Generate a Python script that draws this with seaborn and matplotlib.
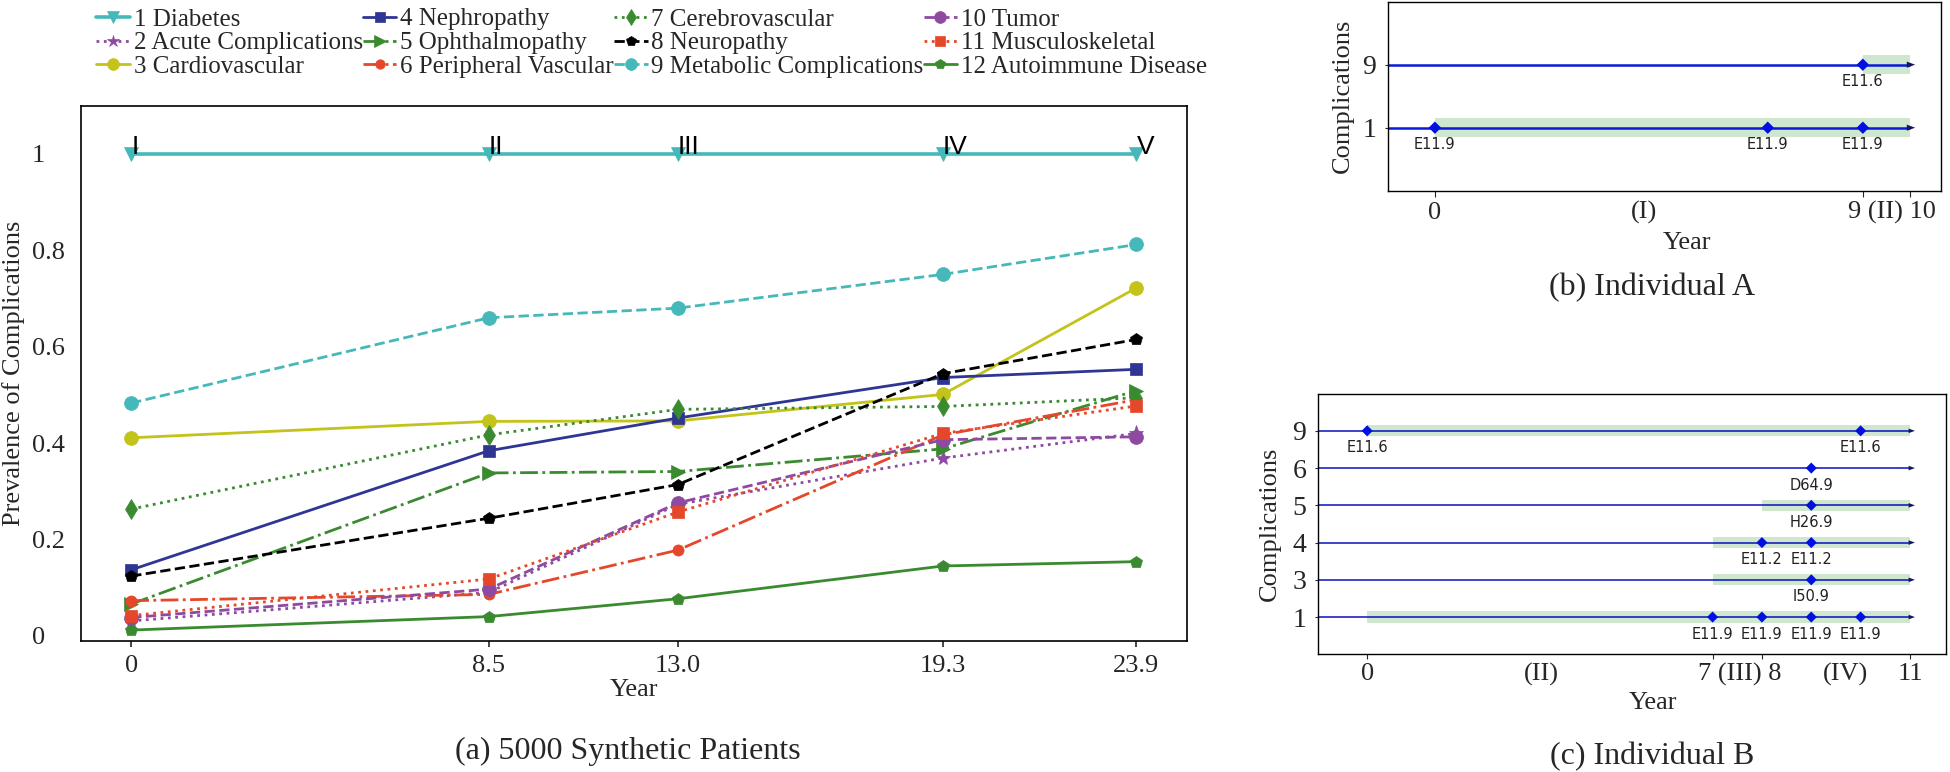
import matplotlib
matplotlib.use("Agg")
import matplotlib.pyplot as plt
import seaborn as sns
import pandas as pd

# ---- (a) prevalence of complications, 5000 synthetic patients ----
years = [0, 8.5, 13.0, 19.3, 23.9]
year_labels = ["0", "8.5", "13.0", "19.3", "23.9"]
stage_labels = ["I", "II", "III", "IV", "V"]

series_names = [
    "1 Diabetes", "2 Acute Complications", "3 Cardiovascular",
    "4 Nephropathy", "5 Ophthalmopathy", "6 Peripheral Vascular",
    "7 Cerebrovascular", "8 Neuropathy", "9 Metabolic Complications",
    "10 Tumor", "11 Musculoskeletal", "12 Autoimmune Disease",
]
diabetes = [1.0, 1.0, 1.0, 1.0, 1.0]
acute = [0.031, 0.090, 0.273, 0.369, 0.420]
cardio = [0.411, 0.445, 0.446, 0.501, 0.722]
nephro = [0.137, 0.384, 0.452, 0.536, 0.553]
ophthal = [0.066, 0.338, 0.341, 0.388, 0.509]
peripheral = [0.073, 0.086, 0.178, 0.417, 0.490]
cerebro = [0.263, 0.417, 0.470, 0.476, 0.494]
neuro = [0.124, 0.244, 0.314, 0.544, 0.615]
metabolic = [0.483, 0.660, 0.680, 0.750, 0.812]
tumor = [0.038, 0.097, 0.276, 0.407, 0.413]
musculo = [0.042, 0.118, 0.257, 0.420, 0.477]
autoimmune = [0.012, 0.040, 0.077, 0.145, 0.154]
all_series = [diabetes, acute, cardio, nephro, ophthal, peripheral,
              cerebro, neuro, metabolic, tumor, musculo, autoimmune]

# ---- (b) individual A ----
b_rows = ["1", "9"]
b_band_rows = ["1", "9"]
b_band_start = [0, 9]
b_band_end = [10, 10]
b_event_rows = ["1", "1", "1", "9"]
b_event_years = [0, 7, 9, 9]
b_event_codes = ["E11.9", "E11.9", "E11.9", "E11.6"]
b_ticks = [0, 9, 10]
b_tick_labels = ["0", "", ""]
b_text_pos = [4.4, 9.62]
b_text_labels = ["(I)", "9 (II) 10"]

# ---- (c) individual B ----
c_rows = ["1", "3", "4", "5", "6", "9"]
c_band_rows = ["1", "3", "4", "5", "9"]
c_band_start = [0, 7, 7, 8, 0]
c_band_end = [11, 11, 11, 11, 11]
c_event_rows = ["9", "9", "6", "5", "4", "4", "3", "1", "1", "1", "1"]
c_event_years = [0, 10, 9, 9, 8, 9, 9, 7, 8, 9, 10]
c_event_codes = ["E11.6", "E11.6", "D64.9", "H26.9", "E11.2", "E11.2",
                 "I50.9", "E11.9", "E11.9", "E11.9", "E11.9"]
c_ticks = [0, 7, 8, 11]
c_tick_labels = ["0", "", "", "11"]
c_text_pos = [3.53, 7.55, 9.69]
c_text_labels = ["(II)", "7 (III) 8", "(IV)"]

# styles
teal, purple, olive, navy = "#45b8ba", "#8e4aa0", "#c3c31a", "#2e3592"
green, red = "#3a8a30", "#e5472a"
colors = [teal, purple, olive, navy, green, red, green, "black", teal, purple, red, green]
linestyles = ["-", ":", "-", "-", "-.", "-.", ":", "--", "--", "--", ":", "-"]
markers = ["v", "*", "o", "s", ">", "o", "d", "p", "o", "o", "s", "p"]
msizes = [10, 11, 10, 9, 10, 8, 10, 9, 10, 10, 9, 9]
widths = [2.6, 2, 2, 2, 2, 2, 2, 2, 2, 2, 2, 2]

sns.set_style("ticks")
plt.rcParams["font.family"] = ["Liberation Serif", "DejaVu Serif"]
plt.rcParams["font.size"] = 18

fig = plt.figure(figsize=(19.5, 7.72), dpi=100)

# ================= (a) =================
ax = fig.add_axes([0.0414, 0.1701, 0.5673, 0.693])
for name, vals, c, ls, m, ms, w in zip(series_names, all_series, colors, linestyles,
                                       markers, msizes, widths):
    sns.lineplot(x=years, y=vals, ax=ax, color=c, linestyle=ls, marker=m,
                 markersize=ms, markeredgecolor=c, markeredgewidth=0.5,
                 lw=w, label=name, errorbar=None)

for x, lab in zip(years, stage_labels):
    ax.text(x, 1.0, lab, ha="left", va="baseline", fontsize=19,
            family=["Liberation Sans", "DejaVu Sans"], color="black")

ax.set_xlim(-1.2, 25.1)
ax.set_ylim(-0.01, 1.1)
ax.set_xticks(years)
ax.set_xticklabels(year_labels)
ax.set_yticks([0, 0.2, 0.4, 0.6, 0.8, 1.0])
ax.set_yticklabels(["0", "0.2", "0.4", "0.6", "0.8", "1"])
ax.tick_params(axis="x", length=4.5, width=1.2, pad=5.5, labelsize=19)
ax.tick_params(axis="y", length=0, pad=35, labelsize=19)
for t in ax.get_yticklabels():
    t.set_horizontalalignment("left")
ax.set_xlabel("Year", fontsize=19)
ax.set_ylabel("Prevalence of Complications", fontsize=19)
ax.xaxis.set_label_coords(0.5, -0.072)
ax.yaxis.set_label_coords(-0.05, 0.5)
for s in ax.spines.values():
    s.set_linewidth(1.2)
    s.set_color("black")

leg = ax.legend(loc="upper left", bbox_to_anchor=(96 / 1950, 1 - 8 / 772),
                bbox_transform=fig.transFigure, ncol=4, frameon=False,
                fontsize=18, handlelength=1.35, handletextpad=0.15,
                columnspacing=0.0, labelspacing=0.05, borderpad=0,
                borderaxespad=0, numpoints=1, markerscale=0.85)

fig.text(628 / 1950, 1 - 751 / 772, "(a) 5000 Synthetic Patients",
         ha="center", va="center", fontsize=23)


def timeline(ax, rows, band_rows, band_start, band_end, ev_rows, ev_years, ev_codes,
             ticks, tick_labels, text_pos, text_labels, xlim, end, line_w, line_c,
             head_scale, mk_size):
    pos = {r: i for i, r in enumerate(rows)}
    band_y = [pos[r] for r in band_rows]
    band_w = [e - s for s, e in zip(band_start, band_end)]
    ax.barh(band_y, band_w, left=band_start, height=0.3, color="#cfe6cf",
            edgecolor="none", zorder=1)
    ax.hlines(list(range(len(rows))), xlim[0], end, color=line_c, lw=line_w, zorder=2)
    for i in range(len(rows)):
        ax.annotate("", xy=(end + 0.1, i), xytext=(end - 0.2, i),
                    arrowprops=dict(arrowstyle="-|>,head_length=0.6,head_width=0.22",
                                    color="#16165e", lw=0.01, shrinkA=0, shrinkB=0,
                                    mutation_scale=head_scale), zorder=3)
    ev = pd.DataFrame({"year": ev_years, "row": [pos[r] for r in ev_rows]})
    sns.scatterplot(data=ev, x="year", y="row", ax=ax, marker="D", s=mk_size,
                    color="#0010e0", edgecolor="none", zorder=4, legend=False)
    for x, r, code in zip(ev_years, ev_rows, ev_codes):
        ax.annotate(code, (x, pos[r]), xytext=(0, -12.3), textcoords="offset points",
                    ha="center", va="center", fontsize=10.5, color="#222222",
                    family=["DejaVu Sans"])
    ax.set_xlim(*xlim)
    ax.set_ylim(-1, len(rows))
    ax.set_yticks(list(range(len(rows))))
    ax.set_yticklabels(rows)
    ax.set_xticks(ticks)
    ax.set_xticklabels(tick_labels)
    ax.set_xticks(text_pos, minor=True)
    ax.set_xticklabels(text_labels, minor=True)
    ax.set_xlabel("Year", fontsize=19)
    ax.set_ylabel("Complications", fontsize=19)
    for s in ax.spines.values():
        s.set_linewidth(1.0)
        s.set_color("black")


# ================= (b) =================
axb = fig.add_axes([1388.3 / 1950, 1 - 190.7 / 772, 553 / 1950, 189 / 772])
timeline(axb, b_rows, b_band_rows, b_band_start, b_band_end, b_event_rows,
         b_event_years, b_event_codes, b_ticks, b_tick_labels, b_text_pos,
         b_text_labels, (-0.98, 10.65), 10.0, 1.8, "#0a1ad8", 10, 40)
axb.tick_params(axis="x", which="major", length=4.3, width=0.8, pad=4, labelsize=19)
axb.tick_params(axis="x", which="minor", length=0, pad=7.3, labelsize=19)
axb.tick_params(axis="y", length=2.5, width=0.8, pad=6, labelsize=20)
axb.xaxis.set_label_coords(0.54, -0.22)
axb.yaxis.set_label_coords(-0.062, 0.5)
fig.text(1652 / 1950, 1 - 288 / 772, "(b) Individual A", ha="center", va="center",
         fontsize=23)

# ================= (c) =================
axc = fig.add_axes([1318.3 / 1950, 1 - 654.3 / 772, 627.7 / 1950, 260.7 / 772])
timeline(axc, c_rows, c_band_rows, c_band_start, c_band_end, c_event_rows,
         c_event_years, c_event_codes, c_ticks, c_tick_labels, c_text_pos,
         c_text_labels, (-0.99, 11.73), 11.0, 1.1, "#0a10b8", 7.5, 32)
axc.tick_params(axis="x", which="major", length=3.6, width=0.8, pad=2.5, labelsize=19)
axc.tick_params(axis="x", which="minor", length=0, pad=6.1, labelsize=19)
axc.tick_params(axis="y", length=2.5, width=0.8, pad=6, labelsize=20)
axc.xaxis.set_label_coords(0.533, -0.145)
axc.yaxis.set_label_coords(-0.06, 0.5)
fig.text(1652 / 1950, 1 - 756.7 / 772, "(c) Individual B", ha="center", va="center",
         fontsize=23)

fig.savefig("out.png", dpi=100)
